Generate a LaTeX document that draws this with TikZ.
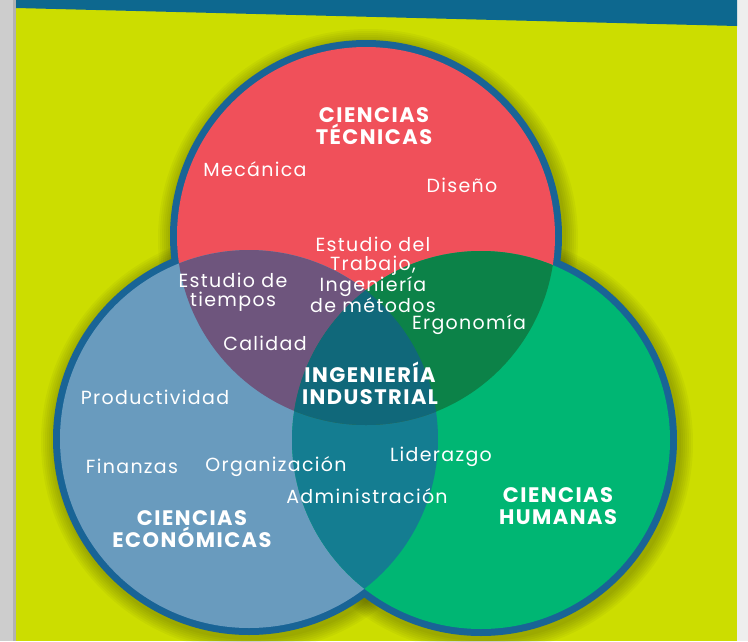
\documentclass[tikz,border=0pt]{standalone}
\usepackage{fontspec}
\newfontfamily\vennfont[LetterSpace=7]{Poppins}

\definecolor{panelyellow}{RGB}{204,221,0}
\definecolor{bandblue}{RGB}{13,104,143}
\definecolor{ringblue}{RGB}{25,100,150}
\definecolor{tecred}{RGB}{240,80,90}
\definecolor{ecoblue}{RGB}{105,155,190}
\definecolor{humgreen}{RGB}{0,182,115}
\definecolor{tececo}{RGB}{110,85,125}
\definecolor{techum}{RGB}{12,130,72}
\definecolor{ecohum}{RGB}{20,125,145}
\definecolor{allthree}{RGB}{16,104,122}
\definecolor{edgegray}{RGB}{205,205,205}
\definecolor{rightgray}{RGB}{238,238,238}

\tikzstyle{areatext} = [text=white, align=center, inner sep=0pt, font=\vennfont\fontsize{19}{19}\selectfont]
\tikzstyle{fieldtitle} = [text=white, align=center, inner sep=0pt, font=\vennfont\bfseries\fontsize{21}{22}\selectfont]

\begin{document}
\begin{tikzpicture}[x=1pt, y=-1pt]
        \useasboundingbox (0,0) rectangle (748,641);
        % page and top band
        \fill[edgegray] (0,0) rectangle (16,641);
        \fill[gray!60] (13,0) rectangle (16,641);
        \fill[panelyellow] (16,0) rectangle (737,641);
        \fill[rightgray] (737,0) rectangle (748,641);
        \fill[bandblue] (16,0) -- (737,0) -- (737,26) -- (16,8) -- cycle;

        \coordinate (tec) at (366,236);
        \coordinate (eco) at (249,439);
        \coordinate (hum) at (481,440);

        % soft shadow, rims, discs
        \foreach \c in {tec,eco,hum}
            \foreach \r in {198,200,...,210}
                \fill[black, opacity=0.035] ([shift={(2,3)}]\c) circle [radius=\r pt];
        \foreach \c in {tec,eco,hum}
            \fill[ringblue] (\c) circle [radius=196pt];
        \fill[tecred] (tec) circle [radius=189pt];
        \fill[ecoblue] (eco) circle [radius=189pt];
        \fill[humgreen] (hum) circle [radius=189pt];

        % overlaps
        \begin{scope}
            \clip (eco) circle [radius=189pt];
            \fill[ecohum] (hum) circle [radius=189pt];
        \end{scope}
        \begin{scope}
            \clip (tec) circle [radius=189pt];
            \fill[tececo] (eco) circle [radius=189pt];
            \fill[techum] (hum) circle [radius=189pt];
            \clip (eco) circle [radius=189pt];
            \fill[allthree] (hum) circle [radius=189pt];
        \end{scope}

        % labels
        \node[fieldtitle] (tectitle) at (374,126) {CIENCIAS\\TÉCNICAS};
        \node[areatext] (mecanica) at (255,169) {Mecánica};
        \node[areatext] (diseno) at (462,185) {Diseño};
        \node[areatext] (estudiotrabajo) at (373,275) {Estudio del\\Trabajo,\\Ingeniería\\de métodos};
        \node[areatext] (tiempos) at (233,292) {Estudio de\\tiempos};
        \node[areatext] (calidad) at (265,343) {Calidad};
        \node[areatext] (ergonomia) at (469,325) {Ergonomía};
        \node[fieldtitle] (industrial) at (370,383) {INGENIERÍA\\INDUSTRIAL};
        \node[areatext] (productividad) at (155,397) {Productividad};
        \node[areatext] (finanzas) at (132,466) {Finanzas};
        \node[areatext] (organizacion) at (276,467) {Organización};
        \node[areatext] (liderazgo) at (441,457) {Liderazgo};
        \node[areatext] (administracion) at (367,496) {Administración};
        \node[fieldtitle] (ecotitle) at (192,529) {CIENCIAS\\ECONÓMICAS};
        \node[fieldtitle] (humtitle) at (558,506) {CIENCIAS\\HUMANAS};

    \end{tikzpicture}
\end{document}
